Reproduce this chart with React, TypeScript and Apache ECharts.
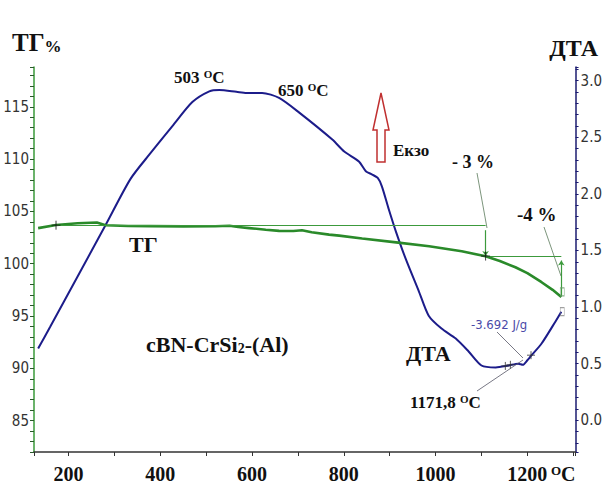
import React, { useEffect, useRef } from 'react';
import * as echarts from 'echarts';

// Temperature (°C) vs TG (%)
const tgData: [number, number][] = [
  [134, 103.4], [173, 103.7], [220, 103.86], [262, 103.94], [281, 103.68], [330, 103.6],
  [377, 103.59], [450, 103.57], [520, 103.58], [551, 103.62], [570, 103.5], [594, 103.4],
  [630, 103.25], [659, 103.14], [690, 103.12], [709, 103.2], [730, 103.0], [768, 102.78],
  [790, 102.68], [840, 102.41], [914, 102.04], [986, 101.66], [1057, 101.18], [1109, 100.71],
  [1140, 100.25], [1174, 99.66], [1200, 99.1], [1231, 98.23], [1255, 97.5], [1274, 96.81],
];

// Temperature (°C) vs DTA
const dtaData: [number, number][] = [
  [134, 0.634], [160, 0.824], [220, 1.27], [281, 1.724], [335, 2.13], [377, 2.35],
  [427, 2.6], [470, 2.81], [507, 2.905], [529, 2.917], [566, 2.901], [588, 2.891],
  [622, 2.891], [659, 2.847], [703, 2.717], [775, 2.479], [801, 2.373], [833, 2.285],
  [848, 2.2], [862, 2.17], [874, 2.14], [883, 2.066], [898, 1.864], [914, 1.662],
  [935, 1.425], [964, 1.135], [985, 0.924], [1013, 0.81], [1044, 0.722], [1072, 0.608],
  [1100, 0.484], [1131, 0.467], [1159, 0.484], [1180, 0.5], [1190, 0.49], [1200, 0.53],
  [1207, 0.564], [1231, 0.678], [1261, 0.871], [1274, 0.959],
];

// TG step levels (-3 %, -4 %)
const tgUpperLevel: [number, number][] = [[173, 103.68], [1109, 103.68]];
const tgLowerLevel: [number, number][] = [[1109, 100.73], [1274, 100.73]];
const tgDrop1: [number, number][] = [[1109, 103.2], [1109, 100.73]];
const tgDrop2: [number, number][] = [[1274, 100.3], [1274, 96.9]];
const tgMarks: [number, number][] = [[173, 103.68], [1109, 100.73]];
const dtaMarks: [number, number][] = [[1152, 0.48], [1163, 0.49], [1208, 0.575]];
const endMarks: [number, number][] = [[1276, 0.96]];
const endMarksTg: [number, number][] = [[1276, 97.3]];

const xTickLabels = [200, 400, 600, 800, 1000, 1200];
const tgTickLabels = [85, 90, 95, 100, 105, 110, 115];
const dtaTickLabels = [0.0, 0.5, 1.0, 1.5, 2.0, 2.5, 3.0];

const SERIF = '"Liberation Serif", "Times New Roman", serif';
const NARROW = '"Liberation Sans Narrow", "Arial Narrow", "DejaVu Sans Condensed", sans-serif';
const GREEN = '#2a8a2a';
const NAVY = '#1c1c8a';

const sup = (size: number) => ({ fontSize: size, fontWeight: 'bold' as const, fontFamily: SERIF, verticalAlign: 'top' as const, fill: '#111' });

export default function App() {
  const ref = useRef<HTMLDivElement>(null);
  useEffect(() => {
    if (!ref.current) return;
    const chart = echarts.init(ref.current, undefined, { renderer: 'svg' });
    const crossSymbol = 'path://M0 5H10M5 0V10';
    const bigText = (text: string, x: number, y: number, size: number, extra: any = {}) => ({
      type: 'text',
      style: {
        text, x, y, fontSize: size, fontWeight: 'bold', fontFamily: SERIF, fill: '#111',
        textVerticalAlign: 'middle', ...extra,
      },
      z: 100,
    });
    const leader = (x1: number, y1: number, x2: number, y2: number, color = '#556') => ({
      type: 'line', shape: { x1, y1, x2, y2 }, style: { stroke: color, lineWidth: 0.8 }, z: 90,
    });
    const levelStyle = { color: '#3c9a3c', width: 1.2, type: 'solid' };
    chart.setOption({
      animation: false,
      backgroundColor: '#fff',
      grid: { left: 34, right: 28, top: 67, bottom: 30 },
      xAxis: {
        type: 'value', min: 125, max: 1305, minInterval: 100, maxInterval: 100, splitNumber: 12,
        axisLine: { onZero: false, lineStyle: { color: '#333', width: 1.5 } },
        axisTick: { length: 4, lineStyle: { color: '#333' } },
        splitLine: { show: false },
        axisLabel: {
          margin: 12, fontFamily: SERIF, fontWeight: 'bold', fontSize: 20, color: '#111',
          formatter: (v: number) => (xTickLabels.includes(v) ? String(v) : ''),
        },
      },
      yAxis: [
        {
          type: 'value', position: 'left', min: 82, max: 118.8, minInterval: 1, maxInterval: 1, splitNumber: 37,
          axisLine: { show: true, onZero: false, lineStyle: { color: '#3a9a3a', width: 1.5 } },
          axisTick: { show: true, length: 4, lineStyle: { color: '#2a5a2a', width: 1 } },
          splitLine: { show: false },
          axisLabel: {
            margin: 5, fontFamily: NARROW, fontSize: 15, color: '#333',
            formatter: (v: number) => (tgTickLabels.includes(v) ? String(v) : ''),
          },
        },
        {
          type: 'value', position: 'right', min: -0.28, max: 3.12, minInterval: 0.1, maxInterval: 0.1, splitNumber: 34,
          axisLine: { show: true, onZero: false, lineStyle: { color: '#1c1c70', width: 1.5 } },
          axisTick: { show: true, length: 3, lineStyle: { color: '#1c1c70' } },
          splitLine: { show: false },
          axisLabel: {
            margin: 5, fontFamily: NARROW, fontSize: 15, color: '#333',
            formatter: (v: number) => (dtaTickLabels.some((t) => Math.abs(t - v) < 1e-6) ? v.toFixed(1) : ''),
          },
        },
      ],
      series: [
        {
          type: 'line', yAxisIndex: 1, data: dtaData, showSymbol: false, smooth: 0.25,
          lineStyle: { color: NAVY, width: 2 }, itemStyle: { color: NAVY }, z: 3,
        },
        {
          type: 'line', yAxisIndex: 0, data: tgData, showSymbol: false,
          lineStyle: { color: GREEN, width: 2.6 }, itemStyle: { color: GREEN }, z: 4,
          markLine: {
            silent: true, symbol: 'none', label: { show: false },
            lineStyle: levelStyle,
            data: [
              [{ coord: tgUpperLevel[0], lineStyle: levelStyle }, { coord: tgUpperLevel[1] }],
              [{ coord: tgLowerLevel[0], lineStyle: levelStyle }, { coord: tgLowerLevel[1] }],
              [{ coord: tgDrop1[0], symbol: 'none', lineStyle: levelStyle }, { coord: tgDrop1[1], symbol: 'arrow', symbolSize: 5 }],
              [{ coord: tgDrop2[0], symbol: 'arrow', symbolSize: 5, lineStyle: levelStyle }, { coord: tgDrop2[1], symbol: 'none' }],
            ],
          },
        },
        {
          type: 'scatter', yAxisIndex: 0, data: tgMarks, symbol: crossSymbol, symbolSize: 9,
          itemStyle: { color: 'none', borderColor: '#111', borderWidth: 1 }, z: 6,
        },
        {
          type: 'scatter', yAxisIndex: 1, data: dtaMarks, symbol: crossSymbol, symbolSize: 8,
          itemStyle: { color: 'none', borderColor: '#333', borderWidth: 1 }, z: 6,
        },
        {
          type: 'scatter', yAxisIndex: 1, data: endMarks, symbol: 'rect', symbolSize: [4, 8],
          itemStyle: { color: 'none', borderColor: '#888', borderWidth: 0.8 }, z: 6,
        },
        {
          type: 'scatter', yAxisIndex: 0, data: endMarksTg, symbol: 'rect', symbolSize: [4, 8],
          itemStyle: { color: 'none', borderColor: '#6a9a6a', borderWidth: 0.8 }, z: 6,
        },
      ],
      graphic: [
        bigText('ТГ{p|%}', 12, 42, 25, { rich: { p: { fontSize: 17, fontWeight: 'bold', fontFamily: SERIF, fill: '#111', verticalAlign: 'bottom' } } }),
        bigText('ДТА', 598, 48, 24, { textAlign: 'right' }),
        bigText('503 {s|O}C', 174, 77, 17, { rich: { s: sup(11) } }),
        bigText('650 {s|O}C', 278, 90, 17, { rich: { s: sup(11) } }),
        bigText('Екзо', 393, 150, 17),
        bigText('- 3 %', 452, 162, 18),
        bigText('-4 %', 517, 214, 19),
        bigText('ТГ', 129, 244, 22),
        bigText('cBN-CrSi{b|2}-(Al)', 146, 344, 22, { rich: { b: { fontSize: 14, fontWeight: 'bold', fontFamily: SERIF, fill: '#111', verticalAlign: 'bottom' } } }),
        bigText('ДТА', 406, 353, 22),
        bigText('1171,8 {s|O}C', 410, 402, 17, { rich: { s: sup(11) } }),
        bigText('{s|O}C', 551, 474, 20, { rich: { s: sup(13) } }),
        {
          type: 'text', z: 100,
          style: { text: '-3.692 J/g', x: 471, y: 324, fontSize: 13, fontFamily: NARROW, fill: '#4a4aa8', textVerticalAlign: 'middle' },
        },
        leader(477, 173, 487, 228, '#5a7a5a'),
        leader(544, 227, 561, 276, '#5a7a5a'),
        leader(497, 332, 523, 358, '#556'),
        leader(477, 391, 523, 360, '#556'),
        {
          type: 'polygon', z: 95,
          shape: { points: [[381, 93], [389, 130], [385, 130], [385, 162], [377, 162], [377, 130], [373, 130]] },
          style: { fill: '#fff', stroke: '#c03030', lineWidth: 1.5 },
        },
      ],
    });
    return () => chart.dispose();
  }, []);
  return <div ref={ref} style={{ position: 'fixed', left: 0, top: 0, width: 605, height: 484, background: '#fff' }} />;
}
